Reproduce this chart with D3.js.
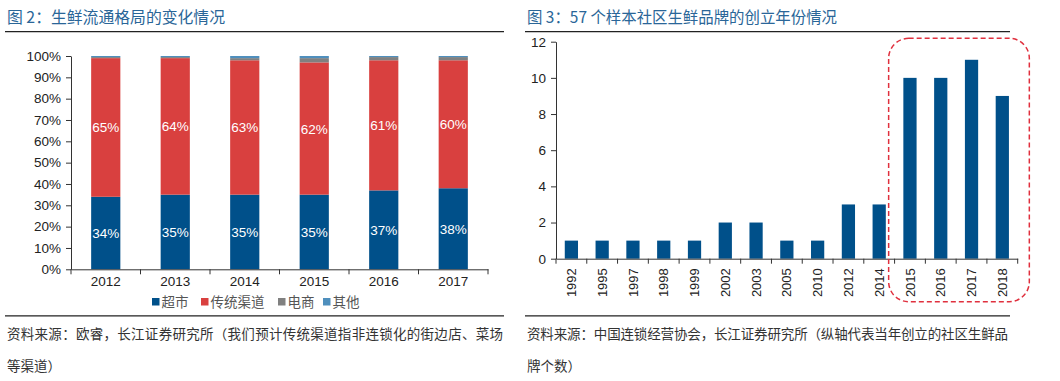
<!DOCTYPE html>
<html><head><meta charset="utf-8">
<script src="https://cdn.jsdelivr.net/npm/d3@7"></script>
<style>
html,body{margin:0;padding:0;background:#fff;}
svg{display:block;}
</style>
</head><body>
<svg id="c" width="1060" height="381"></svg>
<script>
// ---------- data: left chart ----------
const years1 = ["2012","2013","2014","2015","2016","2017"];
const seriesNames1 = ["超市","传统渠道","电商","其他"];
const supermarket = [34,35,35,35,37,38];
const traditional = [65,64,63,62,61,60];
const ecommerce   = [0.5,0.5,1,2,1.5,1.5];
const others      = [0.5,0.5,1,1,0.5,0.5];
const yTicks1 = [0,10,20,30,40,50,60,70,80,90,100];

// ---------- data: right chart ----------
const years2 = ["1992","1995","1997","1998","1999","2002","2003","2005","2010","2012","2014","2015","2016","2017","2018"];
const brandCounts = [1,1,1,1,1,2,2,1,1,3,3,10,10,11,9];
const yTicks2 = [0,2,4,6,8,10,12];
const highlightYears = ["2015","2018"];

const title1 = "图 2：生鲜流通格局的变化情况";
const title2 = "图 3：57 个样本社区生鲜品牌的创立年份情况";
const source1 = ["资料来源：欧睿，长江证券研究所（我们预计传统渠道指非连锁化的街边店、菜场","等渠道）"];
const source2 = ["资料来源：中国连锁经营协会，长江证券研究所（纵轴代表当年创立的社区生鲜品","牌个数）"];

const colors1 = ["#00508a","#d9403f","#808080","#4f8fbd"];
const barBlue = "#00508a";
const titleColor = "#2a6698";
const axisColor = "#333";
const latin = "'Liberation Sans', Arial, 'Noto Sans CJK SC', sans-serif";
const cjk = "'Noto Sans CJK SC', sans-serif";

const svg = d3.select("#c");
svg.append("rect").attr("width",1060).attr("height",381).attr("fill","#fff");

// ---------- titles + rules ----------
function header(x, x2, t, len){
  svg.append("text").attr("x",x).attr("y",23).attr("font-family",cjk)
    .attr("font-size",16).attr("fill",titleColor).attr("textLength",len).attr("lengthAdjust","spacingAndGlyphs").text(t);
  svg.append("line").attr("x1",x-2).attr("x2",x2).attr("y1",31.7).attr("y2",31.7)
    .attr("stroke","#222").attr("stroke-width",1.3);
}
header(7, 504, title1, 218);
header(527, 1010, title2, 310);

function footer(x, x2, lines, len){
  svg.append("line").attr("x1",x-2).attr("x2",x2).attr("y1",315.8).attr("y2",315.8)
    .attr("stroke","#222").attr("stroke-width",1.3);
  lines.forEach((l,i)=>{
    const t = svg.append("text").attr("x",x).attr("y",339+i*31.5).attr("font-family",cjk)
      .attr("font-size",13.5).attr("fill","#333").text(l);
    if(i===0) t.attr("textLength",len).attr("lengthAdjust","spacing");
  });
}
footer(7, 504, source1, 496);
footer(527, 1010, source2, 481);

// ---------- left chart ----------
{
  const x = d3.scaleBand().domain(years1).range([71,488]).paddingInner(0.58).paddingOuter(0.29);
  const y = d3.scaleLinear().domain([0,100]).range([269.3,56]);
  const table = years1.map((yr,i)=>({year:yr, "超市":supermarket[i], "传统渠道":traditional[i], "电商":ecommerce[i], "其他":others[i]}));
  const stack = d3.stack().keys(seriesNames1)(table);
  const g = svg.append("g");
  stack.forEach((s,si)=>{
    g.selectAll(null).data(s).enter().append("rect")
      .attr("x",d=>x(d.data.year)).attr("width",x.bandwidth())
      .attr("y",d=>y(d[1])).attr("height",d=>y(d[0])-y(d[1]))
      .attr("fill",colors1[si]);
  });
  // labels
  [0,1].forEach(si=>{
    g.selectAll(null).data(stack[si]).enter().append("text")
      .attr("x",d=>x(d.data.year)+x.bandwidth()/2)
      .attr("y",d=>(y(d[0])+y(d[1]))/2+5)
      .attr("text-anchor","middle").attr("font-family",latin).attr("font-size",13.5)
      .attr("fill","#fff").text(d=>Math.round(d[1]-d[0])+"%");
  });
  // y axis
  const ya = svg.append("g").attr("transform","translate(71,0)")
    .call(d3.axisLeft(y).tickValues(yTicks1).tickSize(5).tickSizeOuter(0).tickFormat(d=>d+"%"));
  ya.select(".domain").attr("stroke",axisColor);
  ya.selectAll(".tick line").attr("stroke",axisColor);
  ya.selectAll("text").attr("font-family",latin).attr("font-size",13.5).attr("fill","#222").attr("dx","-2");
  // x axis
  const xa = svg.append("g").attr("transform","translate(0,269.3)")
    .call(d3.axisBottom(x).tickSize(0).tickSizeOuter(0));
  xa.select(".domain").attr("stroke",axisColor);
  xa.selectAll("text").attr("font-family",latin).attr("font-size",13.5).attr("fill","#222").attr("dy","1.0em");
  const step = x.step();
  const bounds = years1.map(d=>x(d)-step*x.paddingInner()/2).concat([x(years1[years1.length-1])+x.bandwidth()+step*x.paddingInner()/2]);
  xa.selectAll(".bt").data(bounds).enter().append("line")
    .attr("x1",d=>d).attr("x2",d=>d).attr("y1",0).attr("y2",5).attr("stroke",axisColor);
  // legend
  const lg = svg.append("g");
  let lx = 152;
  const legW = [49, 77, 45, 45];
  seriesNames1.forEach((n,i)=>{
    lg.append("rect").attr("x",lx).attr("y",298).attr("width",7.5).attr("height",7.5).attr("fill",colors1[i]);
    lg.append("text").attr("x",lx+9.5).attr("y",306.5).attr("font-family",cjk).attr("font-size",13.5)
      .attr("fill","#555").text(n);
    lx += legW[i];
  });
}

// ---------- right chart ----------
{
  const x = d3.scaleBand().domain(years2).range([556,1017.7]).paddingInner(0.57).paddingOuter(0.285);
  const y = d3.scaleLinear().domain([0,12]).range([258.7,41.7]);
  const g = svg.append("g");
  g.selectAll(null).data(years2).enter().append("rect")
    .attr("x",d=>x(d)).attr("width",x.bandwidth())
    .attr("y",(d,i)=>y(brandCounts[i])).attr("height",(d,i)=>y(0)-y(brandCounts[i]))
    .attr("fill",barBlue);
  const ya = svg.append("g").attr("transform","translate(556,0)")
    .call(d3.axisLeft(y).tickValues(yTicks2).tickSize(5).tickSizeOuter(0));
  ya.select(".domain").attr("stroke",axisColor);
  ya.selectAll(".tick line").attr("stroke",axisColor);
  ya.selectAll("text").attr("font-family",latin).attr("font-size",13.5).attr("fill","#222").attr("dx","-2");
  const xa = svg.append("g").attr("transform","translate(0,258.7)")
    .call(d3.axisBottom(x).tickSize(0).tickSizeOuter(0));
  xa.select(".domain").attr("stroke",axisColor);
  xa.selectAll("text").attr("font-family",latin).attr("font-size",13).attr("fill","#222")
    .attr("text-anchor","end").attr("transform","rotate(-90)").attr("x",-9.5).attr("y",0).attr("dy","0.35em");
  const step = x.step();
  const bounds = years2.map(d=>x(d)-step*x.paddingInner()/2).concat([x(years2[years2.length-1])+x.bandwidth()+step*x.paddingInner()/2]);
  xa.selectAll(".bt").data(bounds).enter().append("line")
    .attr("x1",d=>d).attr("x2",d=>d).attr("y1",0).attr("y2",5).attr("stroke",axisColor);
  // highlight box
  const hx0 = x(highlightYears[0]) - 14.7;
  const hx1 = x(highlightYears[1]) + x.bandwidth() + 20.4;
  svg.append("rect").attr("x",hx0).attr("y",y(12)-3.4).attr("width",hx1-hx0).attr("height",301.7-(y(12)-3.4))
    .attr("rx",20).attr("ry",20).attr("fill","none").attr("stroke","#e0303e")
    .attr("stroke-width",1.5).attr("stroke-dasharray","5,3");
}
</script>
</body></html>
